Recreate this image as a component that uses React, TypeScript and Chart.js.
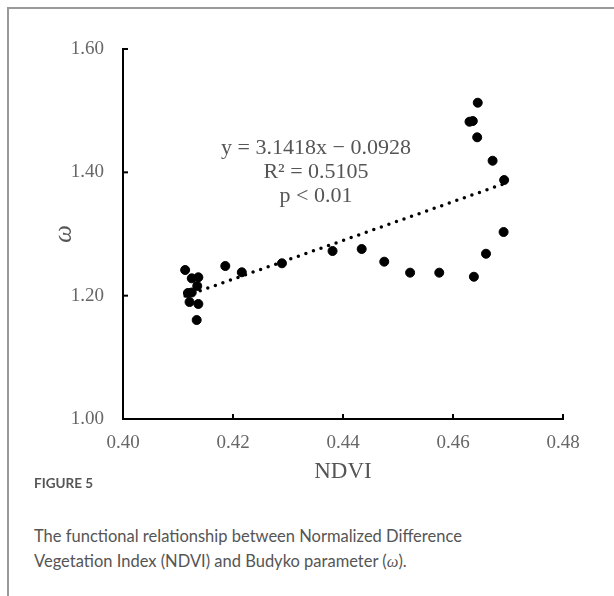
import React, { useEffect, useRef } from "react";
import { Chart, registerables } from "chart.js";

Chart.register(...registerables);

// NDVI (x) and Budyko parameter ω (y) for each observation
const ndvi = [
  0.4113, 0.4186, 0.4125, 0.4137, 0.4135, 0.4118, 0.4125, 0.4121, 0.4137, 0.4134,
  0.4216, 0.4289, 0.4381, 0.4434, 0.4475, 0.4522, 0.4575, 0.4638, 0.4645, 0.463,
  0.4636, 0.4644, 0.4672, 0.4693, 0.4692, 0.466,
];
const omega = [
  1.2416, 1.2481, 1.2281, 1.2298, 1.2157, 1.2043, 1.2051, 1.1897, 1.1865, 1.1605,
  1.2379, 1.2525, 1.2724, 1.2757, 1.2551, 1.2373, 1.2373, 1.2307, 1.5129, 1.4821,
  1.4832, 1.4568, 1.4188, 1.3875, 1.3032, 1.268,
];
// linear trend line end points (y = 3.1418x − 0.0928)
const trendNdvi = [0.4113, 0.4693];
const trendOmega = [1.1994, 1.3816];

const xTicks = [0.4, 0.42, 0.44, 0.46, 0.48];
const yTicks = [1.0, 1.2, 1.4, 1.6];
const equationLines = ["y = 3.1418x − 0.0928", "R² = 0.5105", "p < 0.01"];

const SERIF = "'Liberation Serif', 'Times New Roman', serif";
const SANS = "Lato, 'Open Sans', sans-serif";

export default function App() {
  const ref = useRef<HTMLCanvasElement>(null);

  useEffect(() => {
    if (!ref.current) return;
    const overlay = {
      id: "overlay",
      afterDraw(chart: any) {
        const { ctx, chartArea, scales } = chart;
        ctx.save();
        ctx.strokeStyle = "#000";
        ctx.lineWidth = 2;
        xTicks.slice(1).forEach((v) => {
          const px = scales.x.getPixelForValue(v);
          ctx.beginPath();
          ctx.moveTo(px, chartArea.bottom);
          ctx.lineTo(px, chartArea.bottom - 5);
          ctx.stroke();
        });
        yTicks.slice(1).forEach((v) => {
          const py = scales.y.getPixelForValue(v);
          ctx.beginPath();
          ctx.moveTo(chartArea.left, py);
          ctx.lineTo(chartArea.left + 5, py);
          ctx.stroke();
        });
        ctx.fillStyle = "#555";
        ctx.font = `22px ${SERIF}`;
        ctx.textAlign = "center";
        ctx.textBaseline = "middle";
        equationLines.forEach((t, i) => ctx.fillText(t, 307, 139 + i * 24));
        ctx.restore();
      },
    };

    const chart = new Chart(ref.current, {
      type: "scatter",
      data: {
        datasets: [
          {
            type: "scatter",
            data: ndvi.map((x, i) => ({ x, y: omega[i] })),
            backgroundColor: "#000",
            borderColor: "#000",
            pointRadius: 4.5,
            pointHoverRadius: 4.5,
          },
          {
            type: "line",
            data: trendNdvi.map((x, i) => ({ x, y: trendOmega[i] })),
            borderColor: "#000",
            borderWidth: 3.5,
            borderDash: [0, 8],
            borderCapStyle: "round",
            pointRadius: 0,
            fill: false,
          } as any,
        ],
      },
      options: {
        animation: false,
        responsive: false,
        events: [],
        layout: { padding: { left: 40, top: 40, right: 51, bottom: 0 } },
        plugins: { legend: { display: false }, tooltip: { enabled: false } },
        scales: {
          x: {
            type: "linear",
            min: 0.4,
            max: 0.48,
            afterBuildTicks: (s: any) => {
              s.ticks = xTicks.map((v) => ({ value: v }));
            },
            afterFit: (s: any) => {
              s.height = 70;
            },
            grid: { display: false, drawTicks: false },
            border: { display: true, color: "#000", width: 2 },
            ticks: {
              padding: 13,
              color: "#666",
              font: { family: SERIF, size: 19 },
              callback: (v: any) => Number(v).toFixed(2),
            },
            title: {
              display: true,
              text: "NDVI",
              color: "#555",
              font: { family: SERIF, size: 23 },
              padding: { top: 0, bottom: 3 },
            },
          },
          y: {
            type: "linear",
            min: 1.0,
            max: 1.6,
            afterBuildTicks: (s: any) => {
              s.ticks = yTicks.map((v) => ({ value: v }));
            },
            afterFit: (s: any) => {
              s.width = 74;
            },
            grid: { display: false, drawTicks: false },
            border: { display: true, color: "#000", width: 2 },
            ticks: {
              padding: 19,
              color: "#666",
              font: { family: SERIF, size: 19 },
              callback: (v: any) => Number(v).toFixed(2),
            },
            title: {
              display: true,
              text: "ω",
              color: "#555",
              font: { family: SERIF, size: 25, style: "italic" },
              padding: { top: 0, bottom: 0 },
            },
          },
        },
      },
      plugins: [overlay],
    } as any);
    return () => chart.destroy();
  }, []);

  return (
    <div
      style={{
        position: "fixed",
        left: 7,
        top: 7,
        width: 607,
        height: 589,
        boxSizing: "border-box",
        borderTop: "2px solid #999",
        borderLeft: "2px solid #999",
        background: "#fff",
      }}
    >
      <canvas ref={ref} width={605} height={480} style={{ display: "block", width: 605, height: 480 }} />
      <div
        style={{
          position: "absolute",
          left: 25,
          top: 464,
          fontFamily: SANS,
          fontSize: 13.5,
          fontWeight: 700,
          lineHeight: "20px",
          color: "#555",
          whiteSpace: "nowrap",
        }}
      >
        FIGURE 5
      </div>
      <div
        style={{
          position: "absolute",
          left: 25,
          top: 515,
          fontFamily: SANS,
          fontSize: 16.5,
          lineHeight: "25px",
          color: "#555",
          whiteSpace: "nowrap",
        }}
      >
        <div>The functional relationship between Normalized Difference</div>
        <div>
          Vegetation Index (NDVI) and Budyko parameter (<i style={{ fontFamily: SERIF }}>ω</i>).
        </div>
      </div>
    </div>
  );
}
